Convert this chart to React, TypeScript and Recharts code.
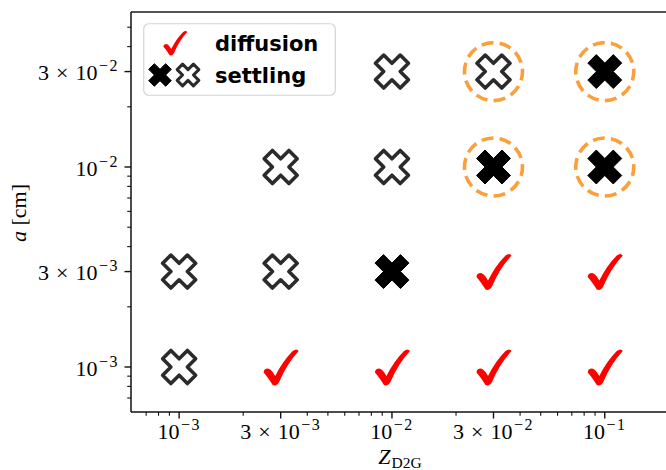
import React from 'react';
import { ScatterChart, Scatter, XAxis, YAxis, ReferenceLine, Legend } from 'recharts';

// ---- data ----
const Z_VALUES = [0.001, 0.003, 0.01, 0.03, 0.1];
const Z_TICK_LABELS = [
  { coef: '', exp: '−3' },
  { coef: '3', exp: '−3' },
  { coef: '', exp: '−2' },
  { coef: '3', exp: '−2' },
  { coef: '', exp: '−1' },
];
const Z_MINOR_TICKS = [0.0007, 0.0008, 0.0009, 0.002, 0.004, 0.005, 0.006, 0.007, 0.008, 0.009, 0.02, 0.04, 0.05, 0.06, 0.07, 0.08, 0.09];

const A_VALUES = [0.001, 0.003, 0.01, 0.03];
const A_TICK_LABELS = [
  { coef: '', exp: '−3' },
  { coef: '3', exp: '−3' },
  { coef: '', exp: '−2' },
  { coef: '3', exp: '−2' },
];
const A_MINOR_TICKS = [0.0007, 0.0008, 0.0009, 0.002, 0.004, 0.005, 0.006, 0.007, 0.008, 0.009, 0.02, 0.04, 0.05];

const X_DOMAIN = [0.000594, 0.1982];
const Y_DOMAIN = [0.0005957, 0.05957];

const DIFFUSION = [
  { z: 0.003, a: 0.001 },
  { z: 0.01, a: 0.001 },
  { z: 0.03, a: 0.001 },
  { z: 0.1, a: 0.001 },
  { z: 0.03, a: 0.003 },
  { z: 0.1, a: 0.003 },
];
const SETTLING_FILLED = [
  { z: 0.01, a: 0.003 },
  { z: 0.03, a: 0.01 },
  { z: 0.1, a: 0.01 },
  { z: 0.1, a: 0.03 },
];
const SETTLING_HOLLOW = [
  { z: 0.001, a: 0.001 },
  { z: 0.001, a: 0.003 },
  { z: 0.003, a: 0.003 },
  { z: 0.003, a: 0.01 },
  { z: 0.01, a: 0.01 },
  { z: 0.01, a: 0.03 },
  { z: 0.03, a: 0.03 },
];
const CIRCLED = [
  { z: 0.03, a: 0.03 },
  { z: 0.1, a: 0.03 },
  { z: 0.03, a: 0.01 },
  { z: 0.1, a: 0.01 },
];

// ---- styling ----
const SERIF = '"Liberation Serif", "Times New Roman", serif';
const SANS = '"DejaVu Sans", sans-serif';
const RED = '#ff0000';
const ORANGE = '#fb9f3a';

function xPath(cx: number, cy: number, h: number) {
  const w = h / 3;
  const pts = [
    [-w, -h], [w, -h], [w, -w], [h, -w], [h, w], [w, w],
    [w, h], [-w, h], [-w, w], [-h, w], [-h, -w], [-w, -w],
  ];
  const c = Math.SQRT1_2;
  return (
    pts
      .map(([px, py], i) => {
        const rx = (px - py) * c;
        const ry = (px + py) * c;
        return `${i === 0 ? 'M' : 'L'}${(cx + rx).toFixed(2)},${(cy + ry).toFixed(2)}`;
      })
      .join(' ') + ' Z'
  );
}

function checkPath(cx: number, cy: number, s: number) {
  const P = (x: number, y: number) => `${(cx + x * s).toFixed(2)},${(cy + y * s).toFixed(2)}`;
  return [
    `M${P(-8, 18)}`,
    `C${P(-11, 13)} ${P(-14, 9)} ${P(-17, 5.5)}`,
    `Q${P(-17, 1.5)} ${P(-12.5, 1.5)}`,
    `Q${P(-10, 2)} ${P(-8, 5)}`,
    `L${P(-5.5, 9)}`,
    `Q${P(2, -6)} ${P(12, -16)}`,
    `Q${P(16, -19)} ${P(18, -16)}`,
    `Q${P(6, -3)} ${P(-1.5, 15)}`,
    `Q${P(-4, 19.5)} ${P(-8, 18)}`,
    'Z',
  ].join(' ');
}

const CheckShape = (p: any) => <path d={checkPath(p.cx, p.cy, 1)} fill={RED} />;
const FilledXShape = (p: any) => <path d={xPath(p.cx, p.cy, 18)} fill="#000" stroke="#000" strokeWidth={1} strokeLinejoin="round" />;
const HollowXShape = (p: any) => (
  <path d={xPath(p.cx, p.cy, 17.5)} fill="#fff" stroke="#2b2b2b" strokeWidth={3.6} strokeLinejoin="round" />
);
const CircleShape = (p: any) => (
  <circle cx={p.cx} cy={p.cy} r={29} fill="none" stroke={ORANGE} strokeWidth={3.6} strokeDasharray="12 6.2" strokeDashoffset={3} />
);

function PowerLabel({ x, y, anchor, lab }: { x: number; y: number; anchor: string; lab: { coef: string; exp: string } }) {
  return (
    <text x={x} y={y} textAnchor={anchor as any} fontFamily={SERIF} fontSize={22} fill="#000">
      {lab.coef ? (
        <>
          <tspan>{lab.coef}</tspan>
          <tspan dx={7}>×</tspan>
          <tspan dx={7}>10</tspan>
        </>
      ) : (
        <tspan>10</tspan>
      )}
      <tspan dy={-9} dx={1.5} fontSize={16} letterSpacing={1.5}>
        {lab.exp}
      </tspan>
    </text>
  );
}

const findIdx = (arr: number[], v: number) => arr.findIndex((a) => Math.abs(v / a - 1) < 1e-6);

const XTick = (props: any) => {
  const { x, y, payload } = props;
  const i = findIdx(Z_VALUES, payload.value);
  const major = i >= 0;
  return (
    <g>
      <line x1={x} x2={x} y1={y} y2={y + (major ? 6.5 : 3.8)} stroke="#111" strokeWidth={major ? 1.4 : 1.1} />
      {major && <PowerLabel x={x} y={y + 27} anchor="middle" lab={Z_TICK_LABELS[i]} />}
    </g>
  );
};

const YTick = (props: any) => {
  const { x, y, payload } = props;
  const i = findIdx(A_VALUES, payload.value);
  const major = i >= 0;
  return (
    <g>
      <line x1={x} x2={x - (major ? 6.5 : 3.8)} y1={y} y2={y} stroke="#111" strokeWidth={major ? 1.4 : 1.1} />
      {major && <PowerLabel x={x - 12} y={y + 8.5} anchor="end" lab={A_TICK_LABELS[i]} />}
    </g>
  );
};

const XTitle = () => (
  <text x={400} y={464} textAnchor="middle" fontFamily={SERIF} fontSize={22} fill="#000">
    <tspan fontStyle="italic">Z</tspan>
    <tspan fontSize={15.5} dy={4} dx={1}>D2G</tspan>
  </text>
);

const YTitle = () => (
  <text x={26} y={213} transform="rotate(-90 26 213)" textAnchor="middle" fontFamily={SERIF} fontSize={22} fill="#000">
    <tspan fontStyle="italic">a</tspan>
    <tspan dx={5.5}>[cm]</tspan>
  </text>
);

const LegendBox = () => (
  <svg width={193} height={73} style={{ display: 'block' }}>
    <rect x={0.75} y={0.75} width={191.5} height={71.5} rx={5} ry={5} fill="#fff" fillOpacity={0.8} stroke="#d3d3d3" strokeWidth={1.2} />
    <path d={checkPath(32, 20, 0.68)} fill={RED} />
    <path d={xPath(17, 52, 12)} fill="#000" stroke="#000" strokeWidth={1} strokeLinejoin="round" />
    <path d={xPath(45, 52, 11.5)} fill="#fff" stroke="#2b2b2b" strokeWidth={3} strokeLinejoin="round" />
    <text x={72} y={27.5} fontFamily={SANS} fontWeight="bold" fontSize={21} fill="#000">diffusion</text>
    <text x={72} y={59.5} fontFamily={SANS} fontWeight="bold" fontSize={21} fill="#000">settling</text>
  </svg>
);

export default function App() {
  return (
    <div style={{ position: 'absolute', left: 0, top: 0, width: 666, height: 470, overflow: 'hidden', background: '#fff' }}>
      <ScatterChart width={690} height={470} margin={{ top: 12, right: 22, bottom: 0, left: 0 }}>
        <XAxis
          type="number"
          dataKey="z"
          scale="log"
          domain={X_DOMAIN}
          allowDataOverflow
          ticks={[...Z_MINOR_TICKS, ...Z_VALUES]}
          interval={0}
          tickSize={0}
          tickMargin={0}
          tickLine={false}
          axisLine={{ stroke: '#111', strokeWidth: 1.5 }}
          height={58}
          tick={XTick}
          label={XTitle}
        />
        <YAxis
          type="number"
          dataKey="a"
          scale="log"
          domain={Y_DOMAIN}
          allowDataOverflow
          ticks={[...A_MINOR_TICKS, ...A_VALUES]}
          interval={0}
          tickSize={0}
          tickMargin={0}
          tickLine={false}
          axisLine={{ stroke: '#111', strokeWidth: 1.5 }}
          width={131}
          tick={YTick}
          label={YTitle}
        />
        <ReferenceLine y={Y_DOMAIN[1]} stroke="#555" strokeWidth={2} ifOverflow="visible" />
        <Scatter data={CIRCLED} shape={CircleShape} isAnimationActive={false} />
        <Scatter data={SETTLING_HOLLOW} shape={HollowXShape} isAnimationActive={false} />
        <Scatter data={SETTLING_FILLED} shape={FilledXShape} isAnimationActive={false} />
        <Scatter data={DIFFUSION} shape={CheckShape} isAnimationActive={false} />
        <Legend
          layout="horizontal"
          verticalAlign="middle"
          align="center"
          wrapperStyle={{ position: 'absolute', left: 143, top: 23, width: 193, height: 73 }}
          content={() => <LegendBox />}
        />
      </ScatterChart>
    </div>
  );
}
